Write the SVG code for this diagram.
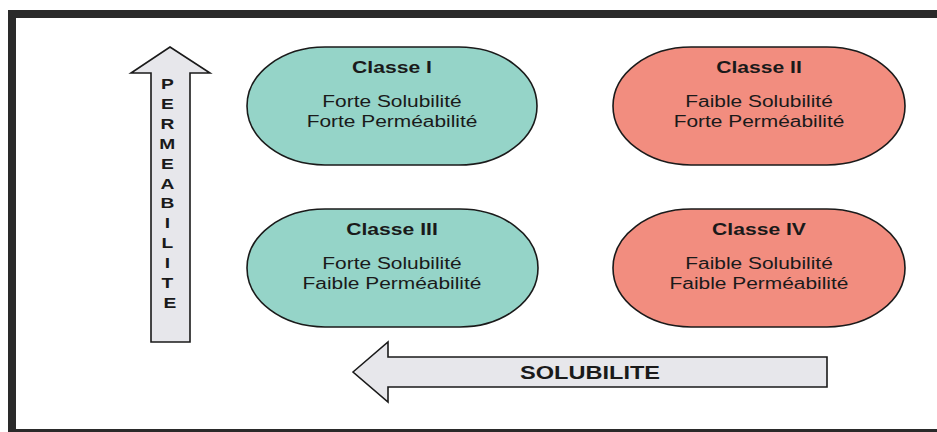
<svg xmlns="http://www.w3.org/2000/svg" width="937" height="432" viewBox="0 0 937 432">
<style>
.frame{fill:none;stroke:#2a2a2a;stroke-width:8}
.teal{fill:#95d4c8;stroke:#1a1a1a;stroke-width:1.6}
.salmon{fill:#f28d7f;stroke:#1a1a1a;stroke-width:1.6}
.arrow{fill:#e7e7eb;stroke:#1a1a1a;stroke-width:1.6;stroke-linejoin:miter}
.title{font-family:"Liberation Sans",Arial,sans-serif;font-weight:bold;font-size:16px;fill:#1a1a1a;text-anchor:middle}
.body{font-family:"Liberation Sans",Arial,sans-serif;font-size:15.6px;fill:#1a1a1a;text-anchor:middle}
.alab{font-family:"Liberation Sans",Arial,sans-serif;font-weight:bold;fill:#1a1a1a;text-anchor:middle}
</style>
<rect x="0" y="0" width="937" height="432" fill="#ffffff"/>
<rect class="frame" x="12" y="14" width="940" height="419"/>
<g id="connectors">
<g id="arrow-permeabilite">
<path class="arrow" d="M170,47 L210,73 L190,73 L190,342 L151,342 L151,73 L131,73 Z"/>
<text class="alab" font-size="15" transform="translate(170,0) scale(1.28,1)">
<tspan x="0" y="89.3">P</tspan>
<tspan x="0" y="109.2">E</tspan>
<tspan x="0" y="129">R</tspan>
<tspan x="0" y="148.9">M</tspan>
<tspan x="0" y="168.7">E</tspan>
<tspan x="0" y="188.6">A</tspan>
<tspan x="0" y="208.4">B</tspan>
<tspan x="0" y="228.3">I</tspan>
<tspan x="0" y="248.1">L</tspan>
<tspan x="0" y="268">I</tspan>
<tspan x="0" y="287.8">T</tspan>
<tspan x="0" y="307.7">E</tspan>
</text>
</g>
<g id="arrow-solubilite">
<path class="arrow" d="M353,372 L388,342 L388,357 L827,357 L827,387 L388,387 L388,402 Z"/>
<text class="alab" font-size="18" transform="translate(590,379) scale(1.31,1)" x="0" y="0">SOLUBILITE</text>
</g>
</g>
<g id="classe-1">
<rect class="teal" x="247" y="47" width="290" height="118" rx="78" ry="59"/>
<text class="title" transform="translate(392,73.3) scale(1.32,1)">Classe I</text>
<text class="body" transform="translate(392,107.3) scale(1.34,1)">Forte Solubilité</text>
<text class="body" transform="translate(392,127.3) scale(1.34,1)">Forte Perméabilité</text>
</g>
<g id="classe-2">
<rect class="salmon" x="613" y="47" width="292" height="118" rx="78" ry="59"/>
<text class="title" transform="translate(759,73.3) scale(1.32,1)">Classe II</text>
<text class="body" transform="translate(759,107.3) scale(1.34,1)">Faible Solubilité</text>
<text class="body" transform="translate(759,127.3) scale(1.34,1)">Forte Perméabilité</text>
</g>
<g id="classe-3">
<rect class="teal" x="247" y="209" width="291" height="118" rx="78" ry="59"/>
<text class="title" transform="translate(392,235.3) scale(1.32,1)">Classe III</text>
<text class="body" transform="translate(392,269.3) scale(1.34,1)">Forte Solubilité</text>
<text class="body" transform="translate(392,289.3) scale(1.34,1)">Faible Perméabilité</text>
</g>
<g id="classe-4">
<rect class="salmon" x="613" y="209" width="292" height="118" rx="78" ry="59"/>
<text class="title" transform="translate(759,235.3) scale(1.32,1)">Classe IV</text>
<text class="body" transform="translate(759,269.3) scale(1.34,1)">Faible Solubilité</text>
<text class="body" transform="translate(759,289.3) scale(1.34,1)">Faible Perméabilité</text>
</g>
</svg>
